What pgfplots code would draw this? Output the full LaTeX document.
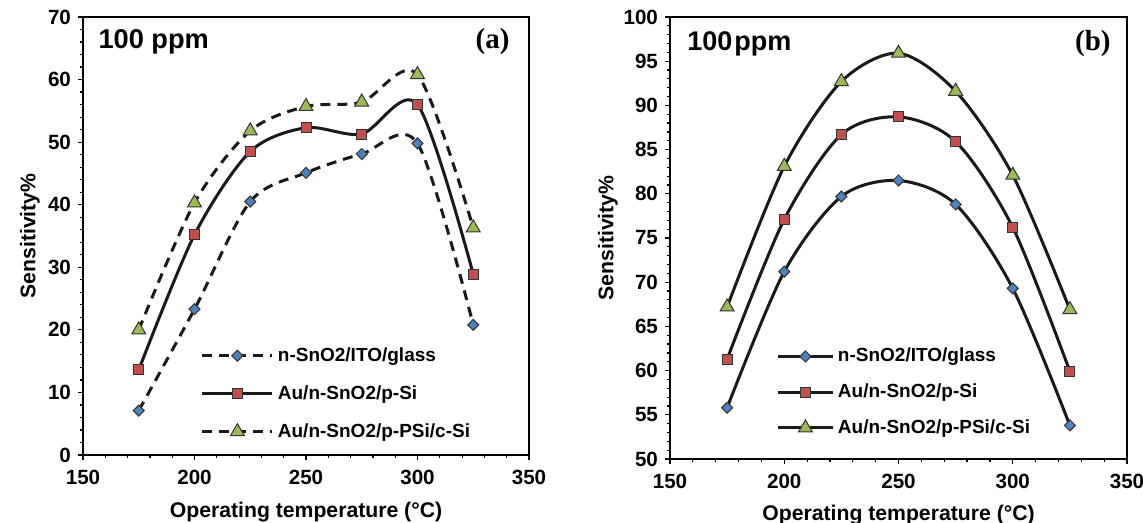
\documentclass[border=0pt]{standalone}
\usepackage{fontspec}
\setmainfont{Liberation Sans}
\newfontfamily\serifb{Liberation Serif}
\usepackage{pgfplots}
\pgfplotsset{compat=1.18}
\definecolor{cblue}{HTML}{4F81BD}
\definecolor{cred}{HTML}{C0504D}
\definecolor{cgreen}{HTML}{9BBB59}
\definecolor{cline}{HTML}{1A1A1A}
\pgfplotsset{
 base/.style={
  scale only axis,
  axis line style={line width=0.9pt},
  tick align=outside, xtick pos=left, ytick pos=left,
  major tick length=2.5pt, minor tick length=1.5pt,
  every tick/.style={black, line width=0.6pt},
  minor tick num=4,
  xmin=150,xmax=350,xtick={150,200,...,350},
  tick label style={font=\fontsize{10.3}{12}\selectfont\bfseries},
  xticklabel style={yshift=-1.3pt},
  /pgf/number format/assume math mode=true,
  label style={font=\fontsize{10.6}{12}\selectfont\bfseries},
  xlabel={Operating temperature (°C)},
  ylabel={Sensitivity\%},
  legend cell align=left,
  legend style={draw=none, fill=none, font=\fontsize{9.5}{11}\selectfont\bfseries, anchor=north west},
 },
 ser/.style={line width=1.5pt, cline, smooth, tension=0.5},
 mk/.style 2 args={mark options={solid, draw=black!80, line width=0.5pt, fill=#1, #2}},
}
\begin{document}
\begin{tikzpicture}
\path (0,0) rectangle (571.5pt,261.5pt);
% left
\begin{axis}[base, at={(41.5pt,34pt)}, anchor=south west,
  width=223pt, height=219pt,
  ymin=0,ymax=70,ytick={0,10,...,70},
  xlabel style={at={(axis description cs:0.5,-0.131)},anchor=center},
  ylabel style={at={(axis description cs:-0.119,0.5)},anchor=center},
  legend style={at={(0.25,0.265)}, row sep=6.6pt},
  legend image code/.code={\draw[mark repeat=2,mark phase=2] plot coordinates {(0pt,0pt)(17.5pt,0pt)(35pt,0pt)};},
]
\addplot[ser, dash pattern=on 5pt off 3.5pt, mark=square*, mk={cblue}{rotate=45}, mark size=1.95pt] coordinates {(175,7.1)(200,23.3)(225,40.5)(250,45.1)(275,48.1)(300,49.8)(325,20.8)};
\addlegendentry{n-SnO2/ITO/glass}
\addplot[ser, mark=square*, mk={cred}{}, mark size=2.5pt] coordinates {(175,13.6)(200,35.2)(225,48.5)(250,52.3)(275,51.3)(300,56.0)(325,28.9)};
\addlegendentry{Au/n-SnO2/p-Si}
\addplot[ser, dash pattern=on 5pt off 3.5pt, mark=triangle*, mk={cgreen}{}, mark size=4pt] coordinates {(175,20.0)(200,40.3)(225,51.8)(250,55.7)(275,56.4)(300,60.8)(325,36.3)};
\addlegendentry{Au/n-SnO2/p-PSi/c-Si}
\node[anchor=west, inner sep=0pt, font=\fontsize{13.6}{15}\selectfont\bfseries] at (axis description cs:0.034,0.943) {100 ppm};
\node[anchor=east, inner sep=0pt, font=\fontsize{14.5}{16}\selectfont\serifb\bfseries] at (axis description cs:0.957,0.943) {(a)};
\end{axis}
% right
\begin{axis}[base, at={(335pt,32pt)}, anchor=south west,
  width=228.5pt, height=221pt,
  ymin=50,ymax=100,ytick={50,55,...,100},
  xlabel style={at={(axis description cs:0.5,-0.126)},anchor=center},
  ylabel style={at={(axis description cs:-0.136,0.5)},anchor=center},
  legend style={at={(0.22,0.27)}, row sep=5.5pt},
  legend image code/.code={\draw[mark repeat=2,mark phase=2] plot coordinates {(0pt,0pt)(13.5pt,0pt)(27pt,0pt)};},
]
\addplot[ser, mark=square*, mk={cblue}{rotate=45}, mark size=1.95pt] coordinates {(175,55.8)(200,71.2)(225,79.7)(250,81.5)(275,78.8)(300,69.3)(325,53.8)};
\addlegendentry{n-SnO2/ITO/glass}
\addplot[ser, mark=square*, mk={cred}{}, mark size=2.5pt] coordinates {(175,61.3)(200,77.1)(225,86.7)(250,88.7)(275,85.9)(300,76.2)(325,59.9)};
\addlegendentry{Au/n-SnO2/p-Si}
\addplot[ser, mark=triangle*, mk={cgreen}{}, mark size=4pt] coordinates {(175,67.2)(200,83.1)(225,92.7)(250,95.9)(275,91.6)(300,82.1)(325,66.9)};
\addlegendentry{Au/n-SnO2/p-PSi/c-Si}
\node[anchor=west, inner sep=0pt, font=\fontsize{13.5}{15}\selectfont\bfseries] at (axis description cs:0.037,0.94) {100\kern1pt ppm};
\node[anchor=east, inner sep=0pt, font=\fontsize{14.5}{16}\selectfont\serifb\bfseries] at (axis description cs:0.965,0.94) {(b)};
\end{axis}
\pgfresetboundingbox
\path[use as bounding box] (0,0) rectangle (571.5pt,261.5pt);
\end{tikzpicture}
\end{document}
